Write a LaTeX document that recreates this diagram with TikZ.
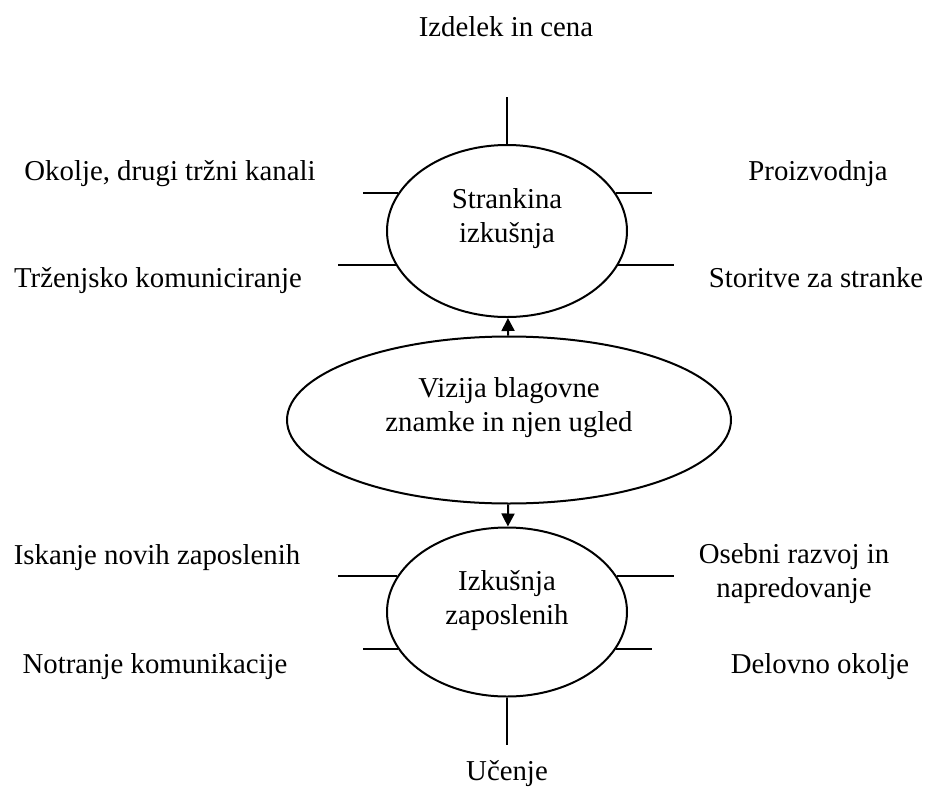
\documentclass[tikz,border=0pt]{standalone}
\usepackage{fontspec}
\setmainfont{Liberation Serif}
\usetikzlibrary{shapes.geometric,arrows.meta}
\tikzset{
  oval/.style={draw, ellipse, line width=1pt, inner sep=0pt, align=center, fill=white},
  txt/.style={inner sep=0pt, align=center, text height=10pt, text depth=3pt},
  stub/.style={line width=1pt},
  arr/.style={line width=1pt, -{Triangle[width=6.5pt,length=6.5pt]}}
}
\begin{document}
\begin{tikzpicture}[x=0.5pt, y=-0.5pt, font=\fontsize{14.4}{17}\selectfont]
        \useasboundingbox (0,0) rectangle (928,788);
        % elipse
        \node[oval, minimum width=120pt, minimum height=86pt] (cust) at (507,231) {Strankina\\izkušnja\\[-2pt]{}};
        \node[oval, minimum width=222pt, minimum height=83.5pt] (vision) at (509,420) {Vizija blagovne\\znamke in njen ugled\\[-2pt]{}};
        \node[oval, minimum width=120pt, minimum height=84.5pt] (emp) at (507,612) {Izkušnja\\zaposlenih\\[-2pt]{}};
        \draw[arr] (vision) -- (cust);
        \draw[arr] (vision) -- (emp);
        % konci crt
        \coordinate (izdelekEnd) at (507,97);
        \coordinate (okoljeEnd) at (363,0);
        \coordinate (trzenjeEnd) at (338,0);
        \coordinate (proizEnd) at (652,0);
        \coordinate (storitveEnd) at (674,0);
        \coordinate (ucenjeEnd) at (507,745);
        % zgoraj
        \draw[stub] (cust.north) -- (izdelekEnd);
        \draw[stub] (cust.161) -- (cust.161 -| okoljeEnd);
        \draw[stub] (cust.197) -- (cust.197 -| trzenjeEnd);
        \draw[stub] (cust.19) -- (cust.19 -| proizEnd);
        \draw[stub] (cust.-17) -- (cust.-17 -| storitveEnd);
        % spodaj
        \draw[stub] (emp.south) -- (ucenjeEnd);
        \draw[stub] (emp.162) -- (emp.162 -| trzenjeEnd);
        \draw[stub] (emp.199) -- (emp.199 -| okoljeEnd);
        \draw[stub] (emp.18) -- (emp.18 -| storitveEnd);
        \draw[stub] (emp.-19) -- (emp.-19 -| proizEnd);
        % napisi
        \node[txt] (izdelek) at (506,29) {Izdelek in cena};
        \node[txt] (okolje) at (170,173) {Okolje, drugi tržni kanali};
        \node[txt] (proiz) at (818,173) {Proizvodnja};
        \node[txt] (trzenje) at (158,280) {Trženjsko komuniciranje};
        \node[txt] (storitve) at (816,280) {Storitve za stranke};
        \node[txt] (iskanje) at (157,557) {Iskanje novih zaposlenih};
        \node[txt] (notranje) at (155,666) {Notranje komunikacije};
        \node[inner sep=0pt, align=center] (razvoj) at (794,574) {Osebni razvoj in\\napredovanje};
        \node[txt] (delovno) at (820,666) {Delovno okolje};
        \node[txt] (ucenje) at (507,773) {Učenje};
\end{tikzpicture}
\end{document}
